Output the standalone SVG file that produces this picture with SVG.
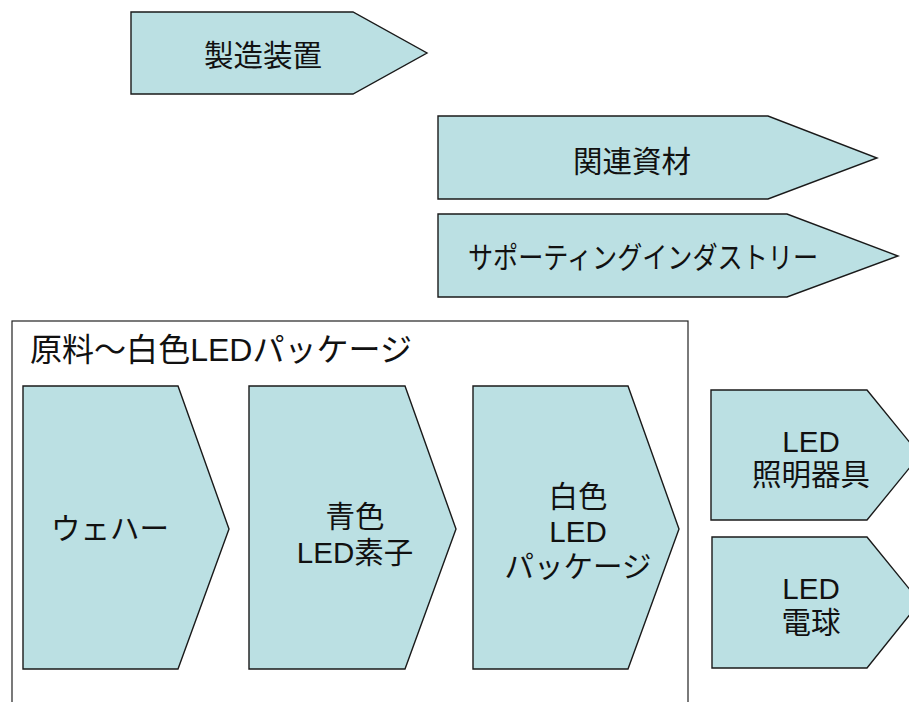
<svg xmlns="http://www.w3.org/2000/svg" width="909" height="702" viewBox="0 0 909 702">
<style>
.s{fill:#bbe0e3;stroke:#1a1a1a;stroke-width:1.4;stroke-linejoin:miter}
.t{font-family:"Liberation Sans","Noto Sans CJK JP",sans-serif;font-size:29.5px;fill:#111;text-anchor:middle}
.box{fill:none;stroke:#222;stroke-width:1.2}
</style>
<rect width="909" height="702" fill="#fff"/>
<g id="container">
<rect class="box" x="12" y="321" width="676" height="400"/>
<text class="t" x="30" y="361" style="text-anchor:start;font-size:32px" textLength="382" lengthAdjust="spacingAndGlyphs">原料～白色LEDパッケージ</text>
</g>
<g id="n1">
<polygon class="s" points="131,12 353,12 427,53 353,94 131,94"/>
<text class="t" x="263" y="66">製造装置</text>
</g>
<g id="n2">
<polygon class="s" points="438,116 768,116 877,158 768,199 438,199"/>
<text class="t" x="632" y="172">関連資材</text>
</g>
<g id="n3">
<polygon class="s" points="438,214 787,214 898,256 787,297 438,297"/>
<text class="t" x="643" y="268" textLength="350" lengthAdjust="spacingAndGlyphs">サポーティングインダストリー</text>
</g>
<g id="n4">
<polygon class="s" points="23,386 178,386 229,529 178,669 23,669"/>
<text class="t" x="110" y="539">ウェハー</text>
</g>
<g id="n5">
<polygon class="s" points="249,386 405,386 456,529 405,669 249,669"/>
<text class="t" x="355" y="527">青色</text>
<text class="t" x="355" y="563">LED素子</text>
</g>
<g id="n6">
<polygon class="s" points="473,386 628,386 679,529 628,669 473,669"/>
<text class="t" x="578" y="507">白色</text>
<text class="t" x="578" y="542">LED</text>
<text class="t" x="578" y="577">パッケージ</text>
</g>
<g id="n7">
<polygon class="s" points="711,390 867,390 920,455 867,520 711,520"/>
<text class="t" x="811" y="452">LED</text>
<text class="t" x="811" y="485">照明器具</text>
</g>
<g id="n8">
<polygon class="s" points="712,537 867,537 920,602 867,668 712,668"/>
<text class="t" x="811" y="599">LED</text>
<text class="t" x="811" y="633">電球</text>
</g>
<g id="connectors"></g>
</svg>
